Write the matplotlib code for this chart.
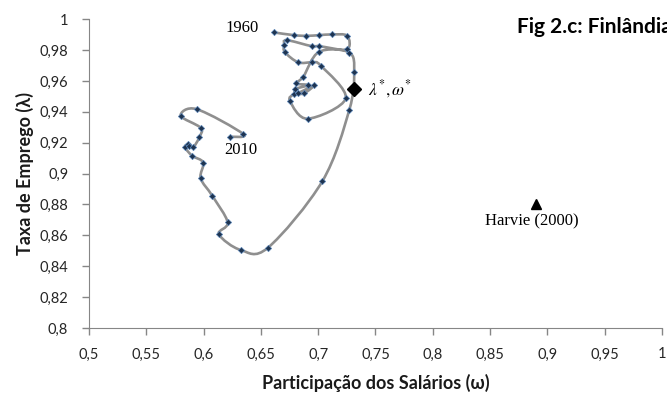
import numpy as np
import matplotlib.pyplot as plt
from matplotlib.path import Path
from matplotlib.patches import PathPatch

# wage share (omega), 1960 -> 2010
omega = [0.6614, 0.6791, 0.6894, 0.7007, 0.7118, 0.7254, 0.7249, 0.7010, 0.6943, 0.6725,
         0.6704, 0.6710, 0.6826, 0.6948, 0.7024, 0.7240, 0.6908, 0.6754, 0.6791, 0.6876,
         0.6966, 0.6826, 0.6798, 0.6914, 0.6804, 0.6870, 0.7007, 0.7271, 0.7314, 0.7271,
         0.7036, 0.6562, 0.6324, 0.6134, 0.6210, 0.6076, 0.5975, 0.5997, 0.5901, 0.5838,
         0.5866, 0.5875, 0.5910, 0.5962, 0.5975, 0.5800, 0.5940, 0.6346, 0.6230]

# employment rate (lambda)
lam = [0.9914, 0.9896, 0.9892, 0.9896, 0.9901, 0.9892, 0.9804, 0.9825, 0.9825, 0.9864,
       0.9832, 0.9786, 0.9720, 0.9720, 0.9698, 0.9487, 0.9355, 0.9469, 0.9515, 0.9519,
       0.9573, 0.9523, 0.9547, 0.9573, 0.9584, 0.9627, 0.9788, 0.9784, 0.9655, 0.9411,
       0.8950, 0.8520, 0.8505, 0.8607, 0.8684, 0.8856, 0.8969, 0.9071, 0.9115, 0.9170,
       0.9191, 0.9178, 0.9170, 0.9234, 0.9296, 0.9374, 0.9417, 0.9256, 0.9238]

# equilibrium and Harvie (2000) estimate
eq_omega, eq_lam = 0.7315, 0.9545
harvie_omega, harvie_lam = 0.89, 0.88

x_ticks = np.arange(0.5, 1.0001, 0.05)
y_ticks = np.arange(0.8, 1.0001, 0.02)


def fmt(v):
    s = ('%.2f' % v).rstrip('0').rstrip('.')
    return s.replace('.', ',')


# smoothed line like excel (bezier through the points)
def smooth_path(xs, ys):
    p = np.column_stack([xs, ys])
    n = len(p)
    verts = [p[0]]
    codes = [Path.MOVETO]
    for i in range(n - 1):
        p0 = p[i - 1] if i > 0 else p[i]
        p3 = p[i + 2] if i + 2 < n else p[i + 1]
        c1 = p[i] + (p[i + 1] - p0) / 6
        c2 = p[i + 1] - (p3 - p[i]) / 6
        verts += [c1, c2, p[i + 1]]
        codes += [Path.CURVE4] * 3
    return Path(verts, codes)


plt.rcParams['font.family'] = ['Lato', 'DejaVu Sans']
plt.rcParams['mathtext.fontset'] = 'stix'

fig = plt.figure(figsize=(6.67, 3.99), dpi=100)
ax = fig.add_axes([0.1334, 0.178, 0.8591, 0.774])

ax.add_patch(PathPatch(smooth_path(omega, lam), fill=False, edgecolor='#8f8f8f', lw=1.9, zorder=2))
ax.plot(omega, lam, ls='none', marker='D', ms=3.2, mfc='#1f3450', mec='#5b86b8', mew=0.5, zorder=3)

ax.plot(eq_omega, eq_lam, marker='D', ms=7, color='black', ls='none', zorder=4)
ax.plot(harvie_omega, harvie_lam, marker='^', ms=7, color='black', ls='none', zorder=4)

serif = ['Liberation Serif', 'DejaVu Serif']
ax.text(0.6335, 0.9942, '1960', family=serif, fontsize=12, ha='center', va='center')
ax.text(0.6326, 0.9152, '2010', family=serif, fontsize=12, ha='center', va='center')
ax.text(0.7435, 0.9545, r'$\lambda^{*},\omega^{*}$', fontsize=12.5, ha='left', va='center')
ax.text(0.8866, 0.8693, 'Harvie (2000)', family=serif, fontsize=12, ha='center', va='center')

ax.set_xlim(0.5, 1.0)
ax.set_ylim(0.8, 1.0)
ax.set_xticks(x_ticks)
ax.set_xticklabels([fmt(v) for v in x_ticks])
ax.set_yticks(y_ticks)
ax.set_yticklabels([fmt(v) for v in y_ticks])
ax.tick_params(colors='#868686', labelcolor='#262626', labelsize=10.5, length=5, width=1)
ax.tick_params(axis='x', pad=9)
ax.tick_params(axis='y', pad=10)
for s in ['top', 'right']:
    ax.spines[s].set_visible(False)
for s in ['left', 'bottom']:
    ax.spines[s].set_color('#868686')

ax.set_xlabel('Participação dos Salários (ω)', fontsize=13, fontweight='bold', color='#1a1a1a', labelpad=9)
ax.set_ylabel('Taxa de Emprego (λ)', fontsize=13, fontweight='bold', color='#1a1a1a', labelpad=4)

fig.text(0.775, 0.932, 'Fig 2.c: Finlândia', fontsize=15, fontweight='bold', ha='left', va='center')

fig.savefig('out.png', dpi=100)
